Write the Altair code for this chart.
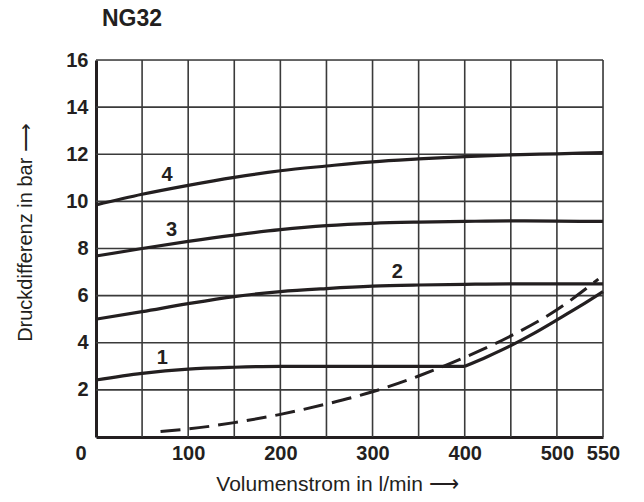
import altair as alt
import pandas as pd

# Flow (l/min) sample points
flow = [0, 50, 100, 150, 200, 250, 300, 350, 400, 450, 500, 550]
curve4 = [9.85, 10.3, 10.68, 11.02, 11.3, 11.5, 11.68, 11.8, 11.9, 11.97, 12.02, 12.07]
curve3 = [7.68, 8.0, 8.3, 8.57, 8.8, 8.97, 9.07, 9.12, 9.15, 9.17, 9.16, 9.15]
curve2 = [5.0, 5.32, 5.66, 5.96, 6.17, 6.3, 6.4, 6.45, 6.48, 6.5, 6.5, 6.5]

# curve 1: flat part up to the kink at 400, then rising part
flow1a = [0, 50, 100, 150, 200, 250, 300, 350, 400]
curve1a = [2.42, 2.7, 2.88, 2.96, 3.0, 3.0, 3.0, 3.0, 3.0]
flow1b = [400, 425, 450, 475, 500, 525, 550]
curve1b = [3.0, 3.42, 3.88, 4.4, 4.97, 5.55, 6.17]

flow_d = [70, 100, 150, 200, 250, 300, 350, 400, 450, 500, 545]
dashed = [0.23, 0.34, 0.61, 0.96, 1.4, 1.92, 2.59, 3.38, 4.29, 5.4, 6.7]

label_text = ["4", "3", "2", "1"]
label_x = [77, 82, 327, 72]
label_y = [11.1, 8.8, 7.0, 3.35]

x_ticks = [100, 200, 300, 400, 500, 550]
y_ticks = [2, 4, 6, 8, 10, 12, 14, 16]
x_grid = [50, 100, 150, 200, 250, 300, 350, 400, 450, 500, 550]
y_grid = [2, 4, 6, 8, 10, 12, 14, 16]

rows = []
for name, xs, ys in [("4", flow, curve4), ("3", flow, curve3), ("2", flow, curve2),
                     ("1a", flow1a, curve1a), ("1b", flow1b, curve1b)]:
    for xv, yv in zip(xs, ys):
        rows.append({"curve": name, "q": xv, "dp": yv})
solid = pd.DataFrame(rows)
dash_df = pd.DataFrame({"q": flow_d, "dp": dashed})
labels_df = pd.DataFrame({"t": label_text, "q": label_x, "dp": label_y})
zero_df = pd.DataFrame({"t": ["0"], "q": [0], "dp": [0]})

FONT = "Liberation Sans"
INK = "#231f20"

xscale = alt.Scale(domain=[0, 550], nice=False, zero=False)
yscale = alt.Scale(domain=[0, 16], nice=False)

xaxis = alt.Axis(values=x_ticks, title="Volumenstrom in l/min \u27f6", labelFont=FONT,
                 labelFontSize=20, labelFontWeight="bold", labelColor=INK, labelPadding=6,
                 titleFont=FONT, titleFontSize=21, titleFontWeight="normal", titleColor=INK,
                 titlePadding=10, titleX=241, ticks=False, domainColor=INK, domainWidth=3,
                 grid=False, labelFlush=False)
yaxis = alt.Axis(values=y_ticks, title="Druckdifferenz in bar \u27f6", labelFont=FONT,
                 labelFontSize=20, labelFontWeight="bold", labelColor=INK, labelPadding=8,
                 titleFont=FONT, titleFontSize=20, titleFontWeight="normal", titleColor=INK,
                 titlePadding=30, titleY=172, ticks=False, domainColor=INK, domainWidth=3,
                 grid=False, labelFlush=False)

grid_x = alt.Chart(pd.DataFrame({"q": x_grid})).mark_rule(
    color="#3a3a3a", strokeWidth=1.6).encode(x=alt.X("q:Q", scale=xscale, axis=xaxis))
grid_y = alt.Chart(pd.DataFrame({"dp": y_grid})).mark_rule(
    color="#3a3a3a", strokeWidth=1.6).encode(y=alt.Y("dp:Q", scale=yscale, axis=yaxis))

lines = alt.Chart(solid).mark_line(color=INK, strokeWidth=3.2, interpolate="monotone").encode(
    x=alt.X("q:Q", scale=xscale), y=alt.Y("dp:Q", scale=yscale), detail="curve:N")
dline = alt.Chart(dash_df).mark_line(color=INK, strokeWidth=3, strokeDash=[20, 9],
                                     interpolate="monotone").encode(
    x=alt.X("q:Q", scale=xscale), y=alt.Y("dp:Q", scale=yscale))
labels = alt.Chart(labels_df).mark_text(font=FONT, fontSize=20, fontWeight="bold",
                                        color=INK, baseline="middle").encode(
    x=alt.X("q:Q", scale=xscale), y=alt.Y("dp:Q", scale=yscale), text="t:N")
zero = alt.Chart(zero_df).mark_text(font=FONT, fontSize=20, fontWeight="bold", color=INK,
                                    dx=-15, dy=17, baseline="middle").encode(
    x=alt.X("q:Q", scale=xscale), y=alt.Y("dp:Q", scale=yscale), text="t:N")

chart = alt.layer(grid_x, grid_y, lines, dline, labels, zero).properties(
    width=507, height=377,
    title=alt.TitleParams("NG32", anchor="start", frame="group", dx=6, offset=19,
                          font=FONT, fontSize=23, fontWeight="bold", color=INK),
    autosize=alt.AutoSizeParams(type="none"),
    padding={"left": 96, "top": 60, "right": 41, "bottom": 65},
).configure_view(stroke="#555555", strokeWidth=1.5).configure(background="white")

chart.save("out.html", embed_options={"renderer": "svg", "actions": False})
